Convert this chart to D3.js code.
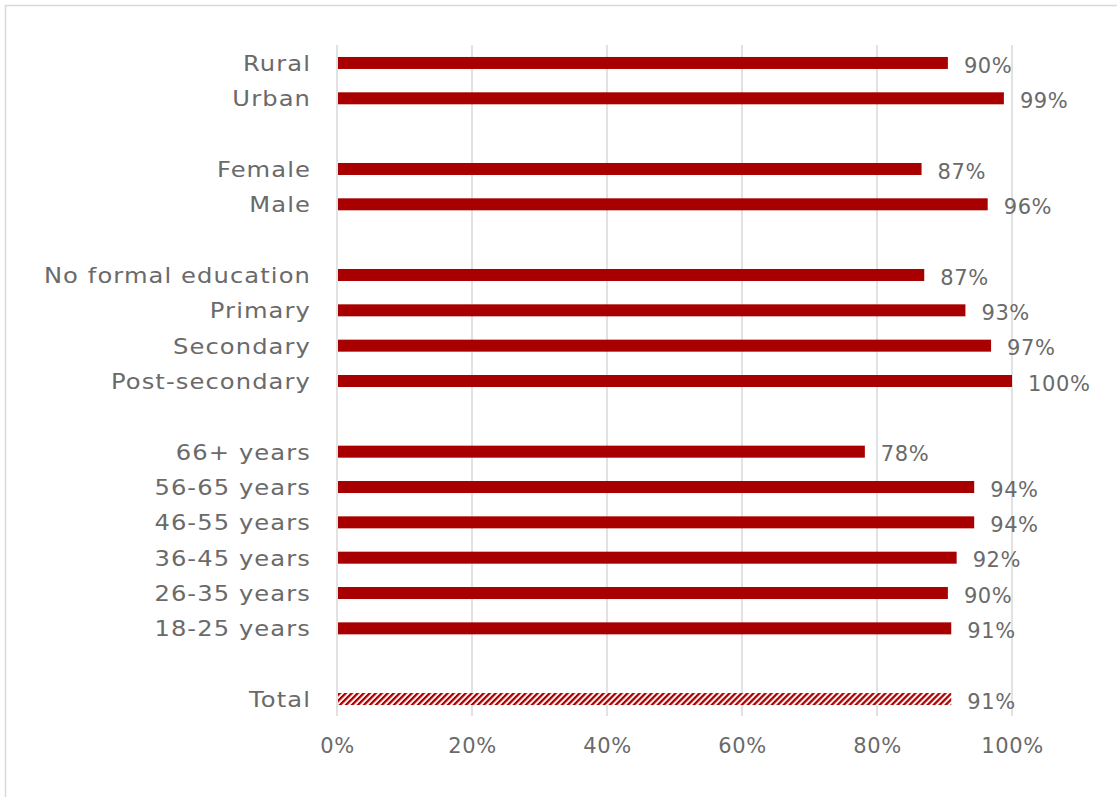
<!DOCTYPE html>
<html><head><meta charset="utf-8">
<script src="https://cdn.jsdelivr.net/npm/d3@7"></script>
<style>body{margin:0;background:#fff}svg{display:block}</style>
</head><body>
<script>
const categories = ["Rural","Urban","_g1","Female","Male","_g2","No formal education","Primary","Secondary","Post-secondary","_g3","66+ years","56-65 years","46-55 years","36-45 years","26-35 years","18-25 years","_g4","Total"];
const values = [90.5,98.8,null,86.6,96.4,null,87.0,93.1,96.9,100,null,78.2,94.4,94.4,91.8,90.5,91.0,null,91.0];
const valueLabels = ["90%","99%","","87%","96%","","87%","93%","97%","100%","","78%","94%","94%","92%","90%","91%","","91%"];
const ticks = [0,20,40,60,80,100];

const W=1117,H=797;
const svg=d3.select("body").append("svg").attr("width",W).attr("height",H);
const defs=svg.append("defs");
const pat=defs.append("pattern").attr("id","hatch").attr("patternUnits","userSpaceOnUse")
  .attr("width",4.24).attr("height",4.24).attr("patternTransform","rotate(45)");
pat.append("rect").attr("width",4.24).attr("height",4.24).attr("fill","#fff");
pat.append("rect").attr("width",2.3).attr("height",4.24).attr("fill","#b00000");

svg.append("rect").attr("x",5.5).attr("y",5.5).attr("width",1300).attr("height",1000)
  .attr("fill","none").attr("stroke","#d9d9d9").attr("stroke-width",1.5);

const x=d3.scaleLinear().domain([0,100]).range([337,1012]);
const y=d3.scaleBand().domain(categories).range([45.3,716.7]).padding(0);
const font="'DejaVu Sans',sans-serif";
const fs=21, ls="0.6px", col="#6a6a6a";

const g=svg.append("g");
g.selectAll("line.grid").data(ticks).enter().append("line")
  .attr("x1",d=>x(d)).attr("x2",d=>x(d)).attr("y1",45).attr("y2",716)
  .attr("stroke","#d9d9d9").attr("stroke-width",1.5);

const rows=categories.map((c,i)=>({c,v:values[i],l:valueLabels[i]})).filter(d=>d.v!==null);
const bh=12;
g.selectAll("rect.bar").data(rows).enter().append("rect")
  .attr("x",x(0)+1).attr("y",d=>y(d.c)+y.bandwidth()/2-bh/2)
  .attr("width",d=>x(d.v)-x(0)-1).attr("height",bh)
  .attr("fill",d=>d.c==="Total"?"url(#hatch)":"#a80000");

g.selectAll("text.cat").data(rows).enter().append("text")
  .attr("transform",d=>`translate(311,${y(d.c)+y.bandwidth()/2}) scale(1.1,1)`)
  .attr("dy","0.36em")
  .attr("text-anchor","end").attr("font-family",font).attr("font-size",22)
  .attr("letter-spacing","1px").attr("fill",col).text(d=>d.c);

g.selectAll("text.val").data(rows).enter().append("text")
  .attr("x",d=>x(d.v)+16).attr("y",d=>y(d.c)+y.bandwidth()/2+2).attr("dy","0.36em")
  .attr("font-family",font).attr("font-size",fs).attr("letter-spacing",ls)
  .attr("fill",col).text(d=>d.l);

const ax=d3.axisBottom(x).tickValues(ticks).tickFormat(d=>d+"%").tickSize(0);
const axg=svg.append("g").attr("transform","translate(0,735)").call(ax);
axg.select(".domain").remove();
axg.selectAll("text").attr("font-family",font).attr("font-size",fs).attr("letter-spacing",ls)
  .attr("fill",col).attr("dy","0.71em");
</script>
</body></html>
